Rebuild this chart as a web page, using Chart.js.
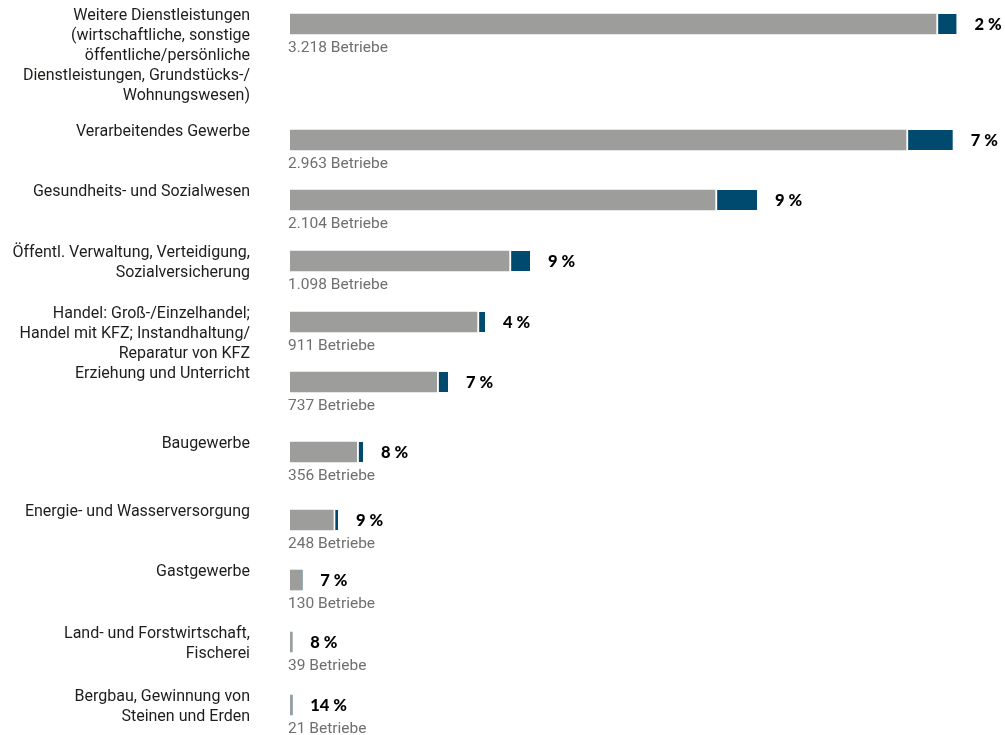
<!DOCTYPE html>
<html lang="de">
<head>
<meta charset="utf-8">
<title>Betriebe nach Wirtschaftszweigen</title>
<script src="https://cdn.jsdelivr.net/npm/chart.js@4.4.1/dist/chart.umd.min.js"></script>
<style>
  html, body { margin: 0; padding: 0; background: #ffffff; }
  #wrap { position: relative; width: 1005px; height: 735px; }
</style>
</head>
<body>
<div id="wrap"><canvas id="chart"></canvas></div>
<script>
// ---------------- DATA ----------------
const categories = [
  ["Weitere Dienstleistungen", "(wirtschaftliche, sonstige", "öffentliche/persönliche", "Dienstleistungen, Grundstücks-/", "Wohnungswesen)"],
  ["Verarbeitendes Gewerbe"],
  ["Gesundheits- und Sozialwesen"],
  ["Öffentl. Verwaltung, Verteidigung,", "Sozialversicherung"],
  ["Handel: Groß-/Einzelhandel;", "Handel mit KFZ; Instandhaltung/", "Reparatur von KFZ"],
  ["Erziehung und Unterricht"],
  ["Baugewerbe"],
  ["Energie- und Wasserversorgung"],
  ["Gastgewerbe"],
  ["Land- und Forstwirtschaft,", "Fischerei"],
  ["Bergbau, Gewinnung von", "Steinen und Erden"]
];
const betriebe = [3218, 2963, 2104, 1098, 911, 737, 356, 248, 130, 39, 21];
const anteilProzent = [2, 7, 9, 9, 4, 7, 8, 9, 7, 8, 14];
// bar segments (arbitrary units)
const greySegment = [646, 616, 425, 219, 187, 146.7, 66.7, 43.3, 12, 2, 2];
const blueSegment = [20.5, 46.7, 42, 21, 8, 11.3, 6.3, 4.7, 0.3, 0.2, 0.3];

// ---------------- LAYOUT ----------------
const rowSlots = [0, 1.933, 2.933, 3.95, 4.967, 5.967, 7.133, 8.267, 9.267, 10.3, 11.35];
const GREY = '#9d9d9c';
const BLUE = '#004a6f';
const LABEL_FONT = 'Roboto, "Liberation Sans", sans-serif';
const BOLD_FONT = 'Lato, "Open Sans", sans-serif';

function fmtDe(n) {
  return String(n).replace(/\B(?=(\d{3})+(?!\d))/g, '.');
}

const labelPlugin = {
  id: 'rowLabels',
  afterDatasetsDraw(chart) {
    const ctx = chart.ctx;
    const area = chart.chartArea;
    const blueMeta = chart.getDatasetMeta(1);
    ctx.save();
    categories.forEach((lines, i) => {
      const bar = blueMeta.data[i];
      const yc = bar.y;
      const xEnd = Math.max(bar.x, bar.base);
      // category label (right aligned)
      ctx.font = '16px ' + LABEL_FONT;
      ctx.fillStyle = '#1d1d1b';
      ctx.textAlign = 'right';
      ctx.textBaseline = 'middle';
      lines.forEach((ln, k) => ctx.fillText(ln, 250, yc - 8 + k * 20));
      // Betriebe label
      ctx.font = '15.5px ' + LABEL_FONT;
      ctx.fillStyle = '#6f6f6e';
      ctx.textAlign = 'left';
      ctx.fillText(fmtDe(betriebe[i]) + ' Betriebe', area.left - 2, yc + 24);
      // percentage label
      ctx.font = '900 16.5px ' + BOLD_FONT;
      ctx.fillStyle = '#000000';
      ctx.fillText(anteilProzent[i] + ' %', xEnd + 18, yc + 1);
    });
    ctx.restore();
  }
};

new Chart(document.getElementById('chart'), {
  type: 'bar',
  data: {
    datasets: [
      {
        label: 'ohne',
        data: greySegment.map((v, i) => ({ x: v, y: rowSlots[i] })),
        backgroundColor: GREY,
        borderWidth: 0,
        barThickness: 20
      },
      {
        label: 'mit',
        data: blueSegment.map((v, i) => ({ x: v, y: rowSlots[i] })),
        backgroundColor: BLUE,
        borderColor: '#ffffff',
        borderWidth: { left: 2.5, right: 0, top: 0, bottom: 0 },
        borderSkipped: false,
        barThickness: 20
      }
    ]
  },
  options: {
    indexAxis: 'y',
    responsive: true,
    maintainAspectRatio: false,
    devicePixelRatio: 1,
    animation: false,
    layout: { padding: { left: 290, right: 5, top: 0, bottom: 0 } },
    plugins: { legend: { display: false }, tooltip: { enabled: false } },
    scales: {
      x: { type: 'linear', stacked: true, min: 0, max: 710, offset: false, display: false },
      y: { type: 'linear', stacked: true, reverse: true, min: -0.4, max: 11.85, offset: false, display: false }
    }
  },
  plugins: [labelPlugin]
});
</script>
</body>
</html>
